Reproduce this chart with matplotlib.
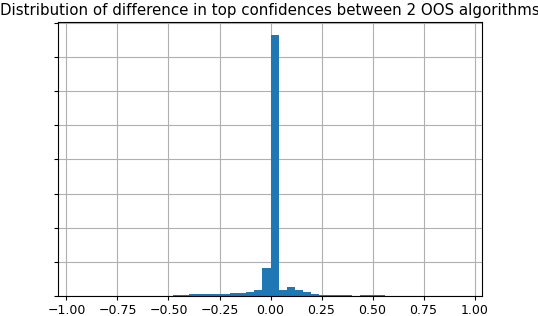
import numpy as np
import matplotlib
matplotlib.use("Agg")
import matplotlib.pyplot as plt

# histogram bins (width 0.04 from -1 to 1) and counts
bin_edges = np.arange(-1.0, 1.0001, 0.04)
counts = [0, 0, 0, 0, 0, 0, 0, 0, 0, 0,
          0, 8, 15, 30, 35, 55, 50, 55, 60, 65,
          78, 100, 120, 185, 820,
          7640, 170, 255, 190, 125, 75, 35, 25, 20, 18,
          15, 25, 40, 25, 15, 0, 0, 0, 0, 0,
          0, 0, 0, 0, 0]
title = "Distribution of difference in top confidences between 2 OOS algorithms"

centers = (bin_edges[:-1] + bin_edges[1:]) / 2

fig = plt.figure(figsize=(5.38, 3.16), dpi=100)
ax = fig.add_axes([0.108, 0.063, 0.787, 0.868])
ax.hist(centers, bins=bin_edges, weights=counts, color="#1f77b4")
ax.set_xlim(-1.041, 1.034)
ax.set_yticks(np.arange(0, 8001, 1000))
ax.set_yticklabels([])
ax.tick_params(labelsize=9, length=3.2, pad=2.6)
ax.grid(True)
ax.set_axisbelow(True)
ax.set_title(title, fontsize=10.8, pad=5)

plt.savefig("out.png", dpi=100)
